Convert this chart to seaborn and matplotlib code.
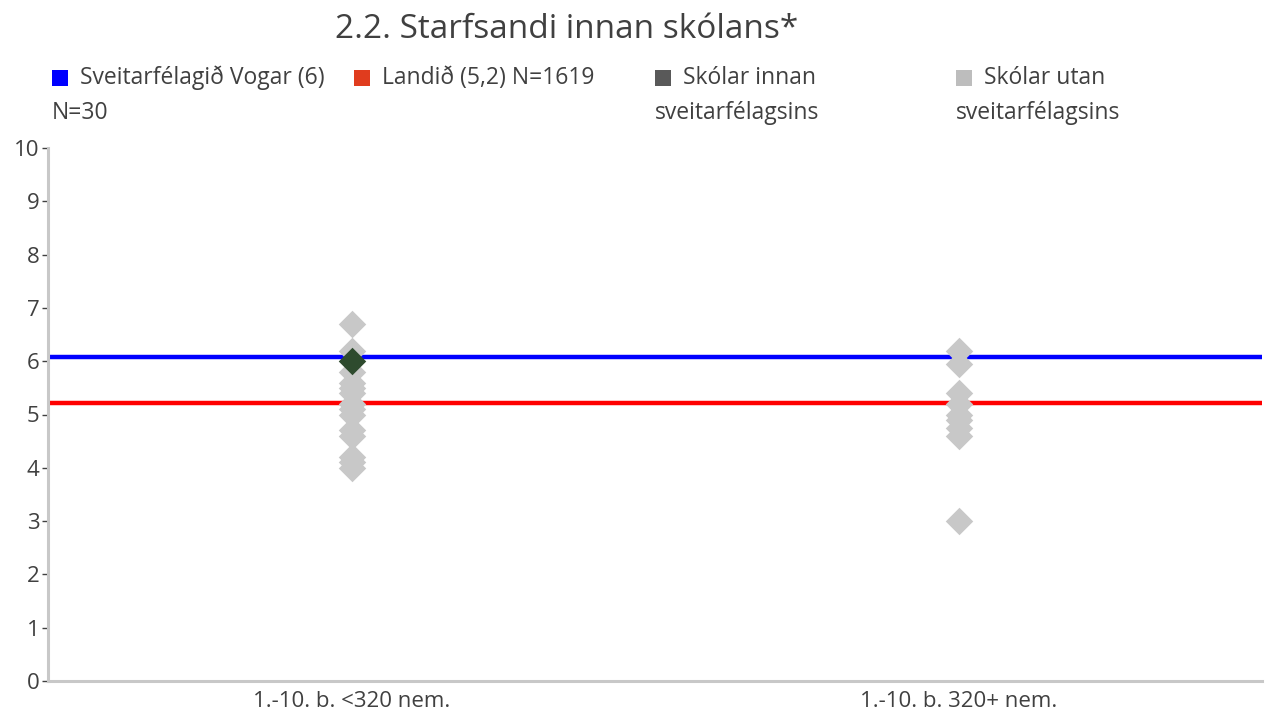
import matplotlib
matplotlib.use("Agg")
import matplotlib.pyplot as plt
import matplotlib.patches as mpatches
import seaborn as sns
import pandas as pd

# ---- data ----
categories = ["1.-10. b. <320 nem.", "1.-10. b. 320+ nem."]
outside_small = [6.7, 6.2, 5.8, 5.6, 5.5, 5.4, 5.2, 5.1, 5.0, 4.7, 4.6, 4.2, 4.1, 4.0]
outside_large = [6.2, 5.95, 5.4, 5.2, 5.0, 4.9, 4.75, 4.6, 3.0]
inside_cat = ["1.-10. b. <320 nem."]
inside_vals = [6.0]
municipality_value = 6.08
country_value = 5.21
title = "2.2. Starfsandi innan skólans*"
legend_labels = ["Sveitarfélagið Vogar (6)\nN=30", "Landið (5,2) N=1619",
                 "Skólar innan\nsveitarfélagsins", "Skólar utan\nsveitarfélagsins"]
yticks = list(range(0, 11))

df_out = pd.DataFrame({
    "cat": [categories[0]] * len(outside_small) + [categories[1]] * len(outside_large),
    "val": outside_small + outside_large,
})
df_in = pd.DataFrame({"cat": inside_cat, "val": inside_vals})

sns.set_theme(style="white")
plt.rcParams["font.family"] = ["Open Sans", "DejaVu Sans"]

W, H = 1272, 711
fig = plt.figure(figsize=(W / 100, H / 100), dpi=100)
ax = fig.add_axes([48 / W, 1 - 681 / H, (1262 - 48) / W, (681 - 148) / H])

ax.axhline(municipality_value, color="#0000FF", lw=3.2, zorder=1)
ax.axhline(country_value, color="#FF0000", lw=3.2, zorder=1)

sns.stripplot(data=df_out, x="cat", y="val", order=categories, jitter=False,
              marker="D", size=14, color="#C8C8C8", linewidth=0, ax=ax, zorder=3)
sns.stripplot(data=df_in, x="cat", y="val", order=categories, jitter=False,
              marker="D", size=14, color="#2E4B2E", linewidth=0, ax=ax, zorder=4)

ax.set_xlim(-0.5, 1.5)
ax.set_ylim(0, 10)
ax.set_yticks(yticks)
ax.set_xlabel("")
ax.set_ylabel("")
for s in ["top", "right"]:
    ax.spines[s].set_visible(False)
for s in ["left", "bottom"]:
    ax.spines[s].set_color("#C8C8C8")
    ax.spines[s].set_linewidth(2.2)
ax.tick_params(axis="y", left=True, length=4, width=1, color="#404040",
               labelsize=16, labelcolor="#404040", pad=2)
ax.tick_params(axis="x", bottom=False, labelsize=16, labelcolor="#404040", pad=1)

fig.text(567 / W, 1 - 30 / H, title, ha="center", va="center", fontsize=24, color="#404040")

# legend (manual layout)
leg_colors = ["#0000FF", "#E03C1E", "#595959", "#BDBDBD"]
leg_x = [52, 354, 655, 956]
for lx, col, lab in zip(leg_x, leg_colors, legend_labels):
    fig.add_artist(mpatches.Rectangle((lx / W, 1 - 86 / H), 16 / W, 16 / H,
                                      transform=fig.transFigure, color=col, lw=0))
    lines = lab.split("\n")
    fig.text((lx + 28) / W, 1 - 78 / H, lines[0], ha="left", va="center",
             fontsize=16.5, color="#404040")
    if len(lines) > 1:
        fig.text(lx / W, 1 - 113 / H, lines[1], ha="left", va="center",
                 fontsize=16.5, color="#404040")

fig.savefig("out.png", dpi=100)
